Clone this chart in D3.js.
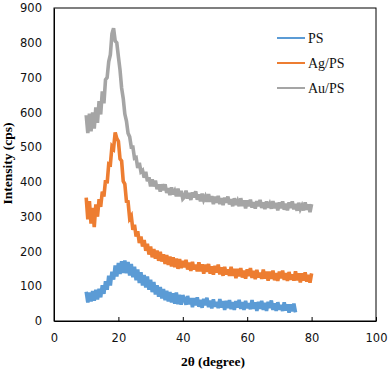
<!DOCTYPE html>
<html>
<head>
<meta charset="utf-8">
<script src="https://cdn.jsdelivr.net/npm/d3@7"></script>
<style>
html,body{margin:0;padding:0;background:#fff;}
svg{display:block;}
</style>
</head>
<body>
<div id="chart"></div>
<script>
// ---- data ----
const seriesNames = ["PS", "Ag/PS", "Au/PS"];
const xStart = 10, xStep = 0.5;
const psValues = [84,53,82,56,86,58,90,62,93,68,103,78,114,90,130,102,142,119,160,128,
167,135,172,138,174,137,170,131,164,126,156,117,148,109,140,102,132,96,128,90,
119,83,112,76,103,70,98,65,92,60,87,56,83,53,80,50,82,48,75,47,
74,63,47,72,48,66,40,66,45,68,41,61,38,64,45,67,40,59,36,62,
41,55,37,63,39,57,32,58,37,60,34,54,32,57,39,61,35,54,32,58,
37,51,34,60,35,54,29,55,35,58,32,52,29,55,37,59,32,51,29,54,
33,46,29,54,30,48,24,48,28,50,25];
const agValues = [355,292,345,280,325,270,335,300,350,328,372,358,405,396,452,450,502,496,542,525,
517,466,460,402,394,344,343,295,302,262,277,243,258,224,243,214,233,202,222,191,
214,183,207,179,203,173,199,171,192,164,190,161,185,157,183,155,180,150,178,152,
173,154,176,148,168,144,170,148,162,143,169,143,163,136,162,141,164,136,157,133,
159,139,162,134,154,130,156,134,148,130,156,130,150,123,150,128,152,125,145,122,
149,129,152,124,144,120,147,125,139,121,148,122,142,116,142,121,145,117,138,115,
142,123,145,118,138,115,141,119,134,116,143,117,137,111,137,116,140,113,133,110,137];
const auValues = [592,540,596,545,600,553,614,570,632,594,660,626,694,700,746,766,826,842,805,800,
760,722,670,640,595,575,540,530,500,500,468,470,440,455,429,433,412,429,402,413,
387,407,387,404,379,393,372,393,376,393,368,382,362,384,364,374,359,381,359,374,
351,356,375,352,368,348,370,355,373,349,364,344,366,348,358,343,365,343,359,336,
358,340,360,336,353,333,355,340,358,335,350,330,353,334,345,330,353,331,347,324,
347,330,349,326,342,323,345,330,348,325,341,322,344,326,337,323,345,324,340,318,
341,324,344,320,337,318,341,325,344,321,337,317,340,322,332,318,341,320,335,313,336];
const xTicks = [0, 20, 40, 60, 80, 100];
const yTicks = [0, 100, 200, 300, 400, 500, 600, 700, 800, 900];
const colors = ["#5B9BD5", "#ED7D31", "#A5A5A5"];

// ---- layout ----
const W = 388, H = 371;
const m = {left: 54, right: 12, top: 8, bottom: 50};
const svg = d3.select("#chart").append("svg").attr("width", W).attr("height", H);

const x = d3.scaleLinear().domain([0, 100]).range([m.left, W - m.right]);
const y = d3.scaleLinear().domain([0, 900]).range([H - m.bottom, m.top]);

const allSeries = [psValues, agValues, auValues].map((vals, k) => ({
  name: seriesNames[k],
  color: colors[k],
  points: vals.map((v, i) => [xStart + i * xStep, v])
}));

const line = d3.line().x(d => x(d[0])).y(d => y(d[1]));

svg.append("g").selectAll("path").data(allSeries).join("path")
  .attr("d", d => line(d.points))
  .attr("fill", "none")
  .attr("stroke", d => d.color)
  .attr("stroke-width", 3.6)
  .attr("stroke-linejoin", "miter")
  .attr("stroke-miterlimit", 3)
  .attr("stroke-linecap", "butt");

// frame
svg.append("rect")
  .attr("x", x(0)).attr("y", y(900))
  .attr("width", x(100) - x(0)).attr("height", y(0) - y(900))
  .attr("fill", "none").attr("stroke", "#000").attr("stroke-width", 1);

// x axis (ticks inward)
const xAxis = d3.axisBottom(x).tickValues(xTicks).tickSizeInner(-4).tickSizeOuter(0).tickPadding(13);
const gx = svg.append("g").attr("transform", `translate(0,${y(0)})`).call(xAxis);
gx.select(".domain").attr("stroke", "#000");
gx.selectAll(".tick line").attr("stroke", "#000");
gx.selectAll("text").attr("font-family", "DejaVu Sans, sans-serif").attr("font-size", 11.5).attr("fill", "#111");

// y axis (no ticks)
const yAxis = d3.axisLeft(y).tickValues(yTicks).tickSize(0).tickPadding(12);
const gy = svg.append("g").attr("transform", `translate(${x(0)},0)`).call(yAxis);
gy.select(".domain").attr("stroke", "#000");
gy.selectAll("text").attr("font-family", "DejaVu Sans, sans-serif").attr("font-size", 11.5).attr("fill", "#111");

// axis titles
svg.append("text")
  .attr("x", (x(0) + x(100)) / 2 - 2).attr("y", 366)
  .attr("text-anchor", "middle")
  .attr("font-family", "Liberation Serif, Times New Roman, serif")
  .attr("font-weight", "bold").attr("font-size", 13.5)
  .text("2θ (degree)");
svg.append("text")
  .attr("transform", `translate(12,${(y(0) + y(900)) / 2 - 1}) rotate(-90)`)
  .attr("text-anchor", "middle")
  .attr("font-family", "Liberation Serif, Times New Roman, serif")
  .attr("font-weight", "bold").attr("font-size", 13.5)
  .text("Intensity (cps)");

// legend
const lg = svg.append("g");
allSeries.forEach((s, k) => {
  const ly = 38 + k * 25;
  lg.append("line").attr("x1", 277).attr("x2", 305).attr("y1", ly).attr("y2", ly)
    .attr("stroke", s.color).attr("stroke-width", 2);
  lg.append("text").attr("x", 308).attr("y", ly + 4.5)
    .attr("font-family", "Liberation Serif, Times New Roman, serif")
    .attr("font-size", 14).attr("fill", "#111")
    .text(s.name);
});
</script>
</body>
</html>
